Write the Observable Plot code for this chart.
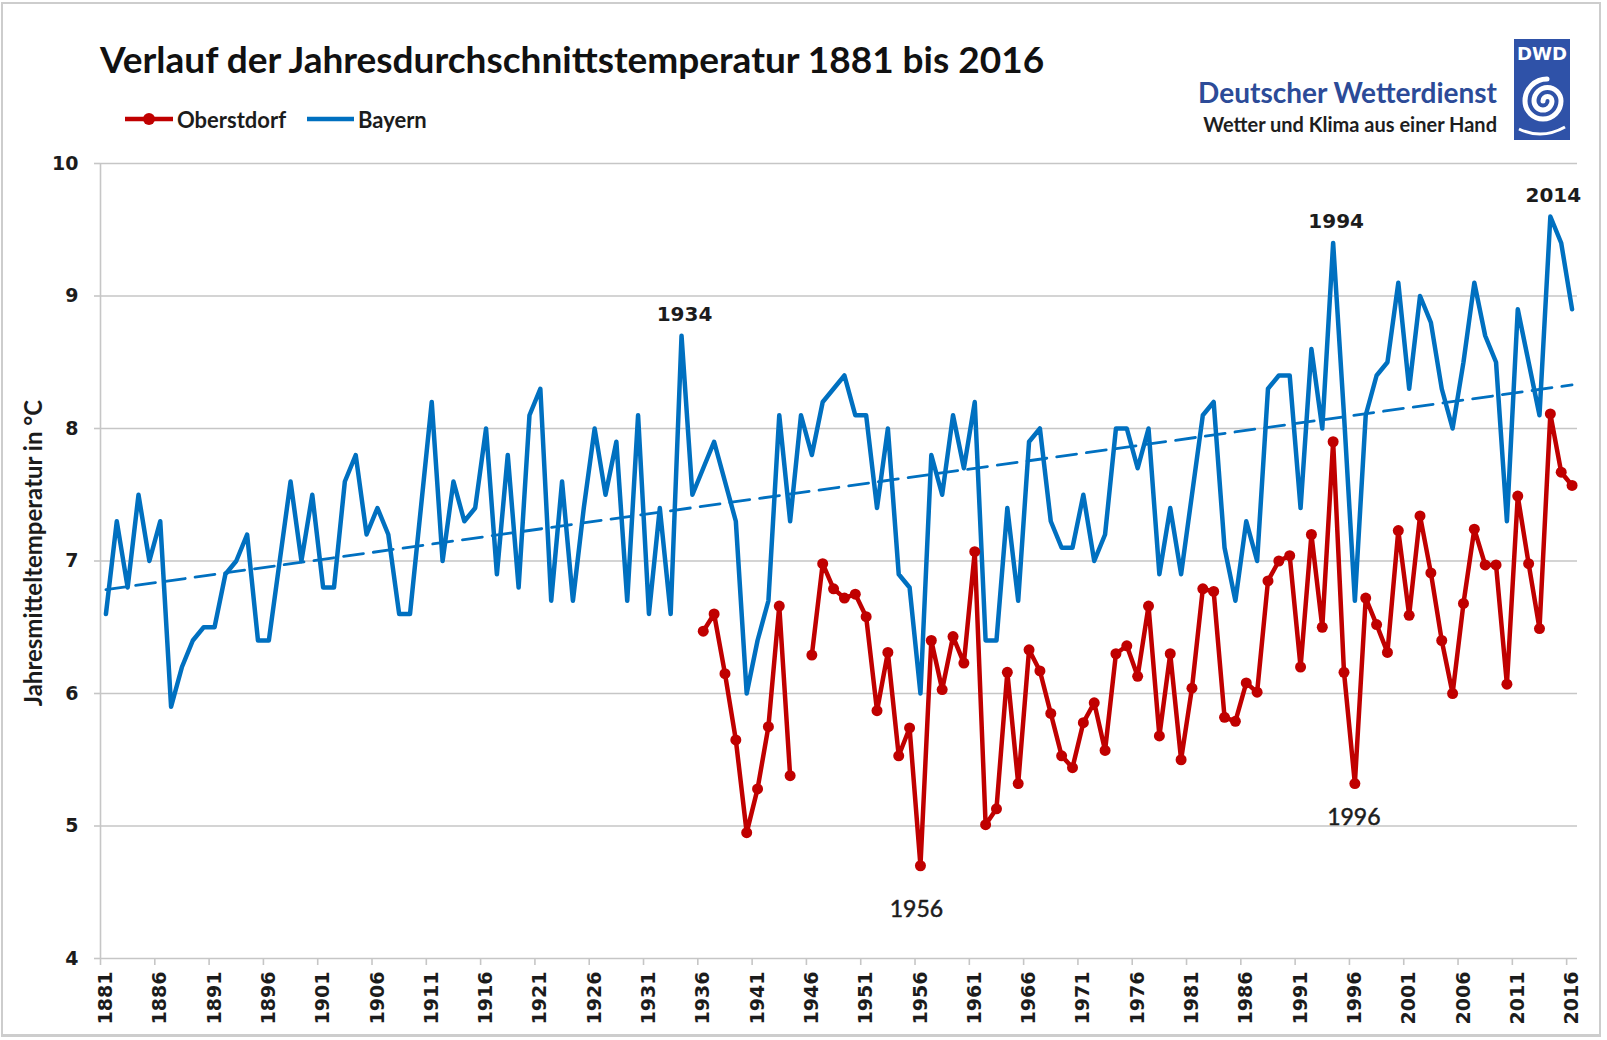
<!DOCTYPE html>
<html>
<head>
<meta charset="utf-8">
<script src="https://cdn.jsdelivr.net/npm/d3@7"></script>
<script src="https://cdn.jsdelivr.net/npm/@observablehq/plot@0.6"></script>
<style>
  html, body { margin: 0; padding: 0; background: #fff; }
  #page { position: relative; width: 1607px; height: 1040px; overflow: hidden; font-family: Lato, "Open Sans", sans-serif; color: #1c1c1c; }
  #frame { position: absolute; left: 1px; top: 2px; width: 1600px; height: 1035px; border: 2px solid #cdcdcd; border-bottom-width: 3px; box-sizing: border-box; pointer-events: none; }
  #header { position: relative; height: 145px; }
  #title { position: absolute; left: 100px; top: 37px; font-size: 37px; font-weight: 700; line-height: 44px; white-space: nowrap; color: #111; }
  .leg { position: absolute; top: 106px; height: 26px; display: flex; align-items: center; font-size: 22px; font-weight: 700; white-space: nowrap; }
  .leg svg { margin-right: 4px; }
  #dwd1 { position: absolute; right: 110px; top: 76px; font-size: 28px; font-weight: 700; color: #2c4b98; line-height: 32px; white-space: nowrap; }
  #dwd2 { position: absolute; right: 110px; top: 111px; font-size: 20px; font-weight: 700; color: #1e1e1e; line-height: 26px; white-space: nowrap; }
  #logo { position: absolute; left: 1514px; top: 39px; }
  #chart svg { display: block; }
</style>
</head>
<body>
<div id="page">
  <div id="header">
    <div id="title">Verlauf der Jahresdurchschnittstemperatur 1881 bis 2016</div>
    <div class="leg" style="left:125px">
      <svg width="48" height="14"><line x1="0" y1="7" x2="48" y2="7" stroke="#c00000" stroke-width="4.5"/><circle cx="24" cy="7" r="6" fill="#c00000"/></svg>Oberstdorf
    </div>
    <div class="leg" style="left:307px">
      <svg width="47" height="14"><line x1="0" y1="7" x2="47" y2="7" stroke="#0070c0" stroke-width="4.5"/></svg>Bayern
    </div>
    <div id="dwd1">Deutscher Wetterdienst</div>
    <div id="dwd2">Wetter und Klima aus einer Hand</div>
    <svg id="logo" width="56" height="101" viewBox="0 0 56 101">
      <rect x="0" y="0" width="56" height="101" fill="#2f52a8"/>
      <text x="28" y="21" text-anchor="middle" fill="#fff" font-family="DejaVu Sans" font-weight="bold" font-size="18" textLength="50" lengthAdjust="spacingAndGlyphs">DWD</text>
      <path d="M29 62 A4.5 4.5 0 0 1 38 62 A9 9 0 0 1 20 62 A13.5 13.5 0 0 1 47 62 A18 18 0 0 1 11 62 A22 22 0 0 1 33 40" fill="none" stroke="#fff" stroke-width="5" stroke-linecap="round"/>
      <path d="M5 90 Q28 101 51 88" fill="none" stroke="#fff" stroke-width="3"/>
    </svg>
  </div>
  <div id="chart"></div>
  <div id="frame"></div>
</div>
<script>
// ---- data ----
const years = d3.range(1881, 2017);
const bayern = [
  6.6, 7.3, 6.8, 7.5, 7.0, 7.3, 5.9, 6.2, 6.4, 6.5,   // 1881-1890
  6.5, 6.9, 7.0, 7.2, 6.4, 6.4, 7.0, 7.6, 7.0, 7.5,   // 1891-1900
  6.8, 6.8, 7.6, 7.8, 7.2, 7.4, 7.2, 6.6, 6.6, 7.4,   // 1901-1910
  8.2, 7.0, 7.6, 7.3, 7.4, 8.0, 6.9, 7.8, 6.8, 8.1,   // 1911-1920
  8.3, 6.7, 7.6, 6.7, 7.4, 8.0, 7.5, 7.9, 6.7, 8.1,   // 1921-1930
  6.6, 7.4, 6.6, 8.7, 7.5, 7.7, 7.9, 7.6, 7.3, 6.0,   // 1931-1940
  6.4, 6.7, 8.1, 7.3, 8.1, 7.8, 8.2, 8.3, 8.4, 8.1,   // 1941-1950
  8.1, 7.4, 8.0, 6.9, 6.8, 6.0, 7.8, 7.5, 8.1, 7.7,   // 1951-1960
  8.2, 6.4, 6.4, 7.4, 6.7, 7.9, 8.0, 7.3, 7.1, 7.1,   // 1961-1970
  7.5, 7.0, 7.2, 8.0, 8.0, 7.7, 8.0, 6.9, 7.4, 6.9,   // 1971-1980
  7.5, 8.1, 8.2, 7.1, 6.7, 7.3, 7.0, 8.3, 8.4, 8.4,   // 1981-1990
  7.4, 8.6, 8.0, 9.4, 8.1, 6.7, 8.1, 8.4, 8.5, 9.1,   // 1991-2000
  8.3, 9.0, 8.8, 8.3, 8.0, 8.5, 9.1, 8.7, 8.5, 7.3,   // 2001-2010
  8.9, 8.5, 8.1, 9.6, 9.4, 8.9                        // 2011-2016
];
const oberstdorfYears = d3.range(1936, 2017);
const oberstdorf = [
  6.47, 6.60, 6.15, 5.65, 4.95, 5.28, 5.75, 6.66, 5.38, null,   // 1936-1945
  6.29, 6.98, 6.79, 6.72, 6.75, 6.58, 5.87, 6.31, 5.53, 5.74,   // 1946-1955
  4.70, 6.40, 6.03, 6.43, 6.23, 7.07, 5.01, 5.13, 6.16, 5.32,   // 1956-1965
  6.33, 6.17, 5.85, 5.53, 5.44, 5.78, 5.93, 5.57, 6.30, 6.36,   // 1966-1975
  6.13, 6.66, 5.68, 6.30, 5.50, 6.04, 6.79, 6.77, 5.82, 5.79,   // 1976-1985
  6.08, 6.01, 6.85, 7.00, 7.04, 6.20, 7.20, 6.50, 7.90, 6.16,   // 1986-1995
  5.32, 6.72, 6.52, 6.31, 7.23, 6.59, 7.34, 6.91, 6.40, 6.00,   // 1996-2005
  6.68, 7.24, 6.97, 6.97, 6.07, 7.49, 6.98, 6.49, 8.11, 7.67,   // 2006-2015
  7.57                                                          // 2016
];
const xLabelYears = d3.range(1881, 2017, 5);
const yTicks = [4, 5, 6, 7, 8, 9, 10];
const peakYears = [1934, 1994, 2014];   // labelled Bayern maxima
const lowYears = [1956, 1996];          // labelled Oberstdorf minima
const yLabel = "Jahresmitteltemperatur in °C";

// ---- tables ----
const bayData = years.map((year, i) => ({year, value: bayern[i]}));
const obsData = oberstdorfYears.map((year, i) => ({year, value: oberstdorf[i]}));
const obsDots = obsData.filter(d => d.value != null);
const peakData = peakYears.map(y => bayData.find(d => d.year === y));
const lowData = lowYears.map(y => obsData.find(d => d.year === y));

const BLUE = "#0070c0", RED = "#c00000", GRID = "#c6c6c6", INK = "#1c1c1c";
const xDomain = [years[0] - 0.5, years[years.length - 1] + 0.5];

const chart = Plot.plot({
  width: 1607,
  height: 895,
  marginTop: 18,
  marginRight: 30,
  marginBottom: 82,
  marginLeft: 100,
  x: {domain: xDomain},
  y: {domain: [yTicks[0], yTicks[yTicks.length - 1]]},
  style: {fontFamily: "DejaVu Sans", color: INK, background: "transparent", overflow: "visible"},
  marks: [
    Plot.gridY(yTicks, {stroke: GRID, strokeOpacity: 1, strokeWidth: 1.6}),
    Plot.ruleX([xDomain[0]], {stroke: GRID, strokeWidth: 1.6}),
    Plot.axisY(yTicks, {tickSize: 6, tickFormat: () => "", stroke: GRID, strokeOpacity: 1, strokeWidth: 1.6, label: null}),
    Plot.axisY(yTicks, {tickSize: 0, tickPadding: 22, fontSize: 19, fontWeight: "bold", label: null, tickFormat: d => String(d)}),
    Plot.axisX(xLabelYears.map(d => d - 0.5), {tickSize: 7, tickFormat: () => "", stroke: GRID, strokeOpacity: 1, strokeWidth: 1.6, label: null}),
    Plot.axisX(xLabelYears, {tickSize: 0, tickPadding: 13, tickRotate: -90, fontSize: 19, fontWeight: "bold", label: null, tickFormat: d => String(d)}),
    Plot.linearRegressionY(bayData, {x: "year", y: "value", ci: 0, stroke: BLUE, strokeWidth: 2.8, strokeDasharray: "20,10"}),
    Plot.line(bayData, {x: "year", y: "value", stroke: BLUE, strokeWidth: 4.5, strokeLinejoin: "round"}),
    Plot.line(obsData, {x: "year", y: "value", stroke: RED, strokeWidth: 4.5, strokeLinejoin: "round"}),
    Plot.dot(obsDots, {x: "year", y: "value", r: 5.5, fill: RED}),
    Plot.text(peakData, {x: "year", y: "value", text: d => String(d.year), dx: 3, dy: -21, fontSize: 20, fontWeight: "bold", fill: INK}),
    Plot.text(lowData.filter(d => d.year === lowYears[0]), {x: "year", y: "value", text: d => String(d.year), dx: -4, dy: 44, fontFamily: "Lato", fontSize: 23, fill: INK, stroke: INK, strokeWidth: 0.5}),
    Plot.text(lowData.filter(d => d.year === lowYears[1]), {x: "year", y: "value", text: d => String(d.year), dx: -1, dy: 34, fontFamily: "Lato", fontSize: 23, fill: INK, stroke: INK, strokeWidth: 0.5}),
    Plot.text([yLabel], {frameAnchor: "left", textAnchor: "middle", rotate: -90, dx: -66, dy: -8, fontFamily: "Lato", fontSize: 24, fontWeight: "bold", fill: INK})
  ]
});
document.getElementById("chart").appendChild(chart);
</script>
</body>
</html>
